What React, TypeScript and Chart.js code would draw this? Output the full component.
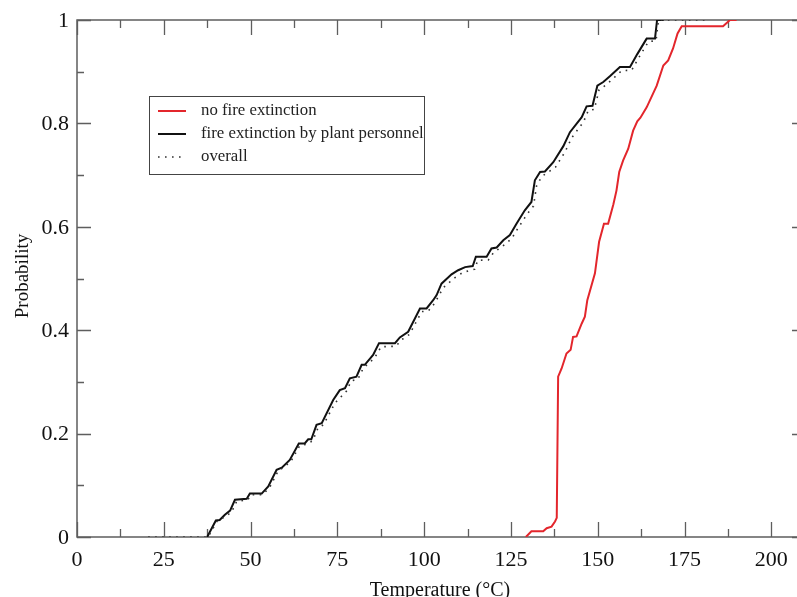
import React, { useEffect, useRef } from "react";
import { Chart, registerables } from "chart.js";
Chart.register(...registerables);

// ---- Data ----
const xMajorTicks = [0, 25, 50, 75, 100, 125, 150, 175, 200];
const xMinorTicks = [12.5, 37.5, 62.5, 87.5, 112.5, 137.5, 162.5, 187.5];
const yMajorTicks = [0, 0.2, 0.4, 0.6, 0.8, 1];
const yMinorTicks = [0.1, 0.3, 0.5, 0.7, 0.9];
const yTickLabels = ["0", "0.2", "0.4", "0.6", "0.8", "1"];

const seriesNames = ["no fire extinction", "fire extinction by plant personnel", "overall"];

const noExtT = [129.3, 130.9, 134.3, 135.3, 136.7, 137.7, 138.2, 138.6, 139.6, 141.0, 142.2, 142.9, 143.9, 145.4, 146.3, 147.0, 149.2, 150.4, 151.8, 153.0, 154.5, 155.4, 156.2, 157.3, 158.8, 160.2, 161.4, 162.3, 164.1, 167.0, 168.9, 170.3, 171.7, 173.0, 174.2, 186.1, 188.1, 190.0];
const noExtP = [0, 0.011, 0.011, 0.017, 0.020, 0.030, 0.037, 0.310, 0.326, 0.355, 0.362, 0.387, 0.388, 0.413, 0.426, 0.458, 0.510, 0.571, 0.606, 0.606, 0.643, 0.670, 0.706, 0.728, 0.751, 0.786, 0.804, 0.811, 0.831, 0.873, 0.912, 0.922, 0.945, 0.974, 0.988, 0.988, 1.0, 1.0];

const plantT = [37.5, 40.0, 41.1, 42.6, 44.1, 45.5, 48.9, 49.8, 53.2, 55.1, 57.5, 59.0, 61.3, 63.9, 65.6, 66.6, 67.5, 69.0, 70.5, 73.8, 75.7, 77.2, 78.6, 80.5, 82.0, 82.9, 85.3, 87.0, 91.6, 93.0, 95.4, 98.8, 100.7, 102.6, 103.6, 105.0, 107.9, 109.8, 111.8, 114.0, 114.9, 118.0, 119.4, 120.9, 122.8, 124.7, 126.6, 129.0, 130.9, 131.9, 133.4, 134.8, 137.2, 140.1, 142.0, 145.4, 146.8, 148.5, 149.9, 151.6, 153.5, 156.4, 159.3, 161.4, 164.1, 166.5, 167.1, 169.0];
const plantP = [0, 0.032, 0.033, 0.043, 0.051, 0.072, 0.074, 0.084, 0.084, 0.098, 0.130, 0.134, 0.149, 0.181, 0.181, 0.189, 0.189, 0.217, 0.220, 0.265, 0.284, 0.288, 0.307, 0.310, 0.333, 0.333, 0.352, 0.375, 0.375, 0.386, 0.397, 0.442, 0.442, 0.458, 0.468, 0.490, 0.508, 0.516, 0.522, 0.524, 0.542, 0.542, 0.558, 0.560, 0.574, 0.584, 0.606, 0.632, 0.648, 0.690, 0.706, 0.707, 0.725, 0.756, 0.783, 0.812, 0.833, 0.834, 0.873, 0.880, 0.891, 0.909, 0.909, 0.934, 0.964, 0.964, 1.0, 1.0];

const overallT = [20.5, 37.8, 40.3, 42.8, 44.5, 46.0, 49.2, 50.2, 53.5, 55.5, 57.9, 61.6, 64.2, 66.0, 67.9, 69.5, 71.0, 74.3, 77.6, 79.0, 80.9, 82.5, 85.7, 87.6, 91.9, 93.4, 95.8, 99.3, 101.2, 103.0, 105.5, 108.5, 111.2, 114.6, 115.4, 118.5, 120.0, 123.3, 125.2, 127.1, 129.6, 131.5, 132.4, 134.0, 137.8, 140.6, 142.5, 145.9, 147.3, 149.0, 150.4, 152.1, 154.0, 156.9, 159.8, 161.9, 164.6, 166.8, 167.5, 182.3];
const overallP = [0, 0, 0.030, 0.040, 0.048, 0.069, 0.072, 0.082, 0.082, 0.096, 0.127, 0.146, 0.177, 0.179, 0.186, 0.212, 0.217, 0.259, 0.282, 0.302, 0.305, 0.327, 0.346, 0.368, 0.369, 0.381, 0.392, 0.436, 0.437, 0.452, 0.482, 0.500, 0.512, 0.518, 0.535, 0.536, 0.550, 0.566, 0.577, 0.598, 0.624, 0.640, 0.680, 0.698, 0.715, 0.745, 0.772, 0.803, 0.825, 0.827, 0.865, 0.873, 0.884, 0.902, 0.903, 0.928, 0.958, 0.960, 1.0, 1.0];

const RED = "#e3262c";
const BLACK = "#111111";
const DOT = "#333333";
const FRAME = "#5e5e5e";
const SERIF = '"Liberation Serif", "DejaVu Serif", serif';

const toPoints = (xs: number[], ys: number[]) => xs.map((x, i) => ({ x, y: ys[i] }));

export default function App() {
  const ref = useRef<HTMLCanvasElement>(null);

  useEffect(() => {
    const canvas = ref.current!;
    const framePlugin = {
      id: "frame",
      beforeDatasetsDraw(chart: any) {
        const { ctx, chartArea: a, scales } = chart;
        const xs = scales.x;
        const ys = scales.y;
        ctx.save();
        ctx.strokeStyle = FRAME;
        ctx.lineWidth = 1.5;
        ctx.beginPath();
        ctx.rect(a.left, a.top, a.right - a.left, a.bottom - a.top);
        ctx.stroke();
        ctx.lineWidth = 1.3;
        ctx.beginPath();
        const xTick = (v: number, len: number) => {
          const px = Math.round(xs.getPixelForValue(v)) + 0.5;
          ctx.moveTo(px, a.bottom);
          ctx.lineTo(px, a.bottom - len);
          ctx.moveTo(px, a.top);
          ctx.lineTo(px, a.top + len);
        };
        const yTick = (v: number, len: number) => {
          const py = Math.round(ys.getPixelForValue(v)) + 0.5;
          ctx.moveTo(a.left, py);
          ctx.lineTo(a.left + len, py);
          ctx.moveTo(a.right, py);
          ctx.lineTo(a.right - len, py);
        };
        xMajorTicks.forEach((v) => xTick(v, 15));
        xMinorTicks.forEach((v) => xTick(v, 8));
        yMajorTicks.forEach((v) => yTick(v, 14));
        yMinorTicks.forEach((v) => yTick(v, 7));
        ctx.stroke();

        // tick labels
        ctx.fillStyle = "#111";
        ctx.font = `22px ${SERIF}`;
        ctx.textAlign = "center";
        ctx.textBaseline = "alphabetic";
        xMajorTicks.forEach((v) => {
          ctx.fillText(String(v), xs.getPixelForValue(v), 566);
        });
        ctx.textAlign = "right";
        ctx.textBaseline = "middle";
        yMajorTicks.forEach((v, i) => {
          ctx.fillText(yTickLabels[i], 69, ys.getPixelForValue(v) + 1);
        });

        // axis titles
        ctx.font = `20px ${SERIF}`;
        ctx.textAlign = "center";
        ctx.textBaseline = "alphabetic";
        ctx.fillText("Temperature (°C)", 440, 596);
        ctx.save();
        ctx.translate(28, 276);
        ctx.rotate(-Math.PI / 2);
        ctx.font = `19px ${SERIF}`;
        ctx.fillText("Probability", 0, 0);
        ctx.restore();
        ctx.restore();
      },
      afterDraw(chart: any) {
        const { ctx } = chart;
        ctx.save();
        ctx.fillStyle = "#fff";
        ctx.fillRect(149, 96, 275, 78);
        ctx.strokeStyle = "#444";
        ctx.lineWidth = 1;
        ctx.strokeRect(149.5, 96.5, 275, 78);
        const rows = [111, 134, 157];
        const colors = [RED, BLACK, DOT];
        rows.forEach((ry, i) => {
          ctx.beginPath();
          ctx.strokeStyle = colors[i];
          if (i === 2) {
            ctx.lineWidth = 1.6;
            ctx.setLineDash([1.6, 5.4]);
          } else {
            ctx.lineWidth = 2;
            ctx.setLineDash([]);
          }
          ctx.moveTo(158, ry);
          ctx.lineTo(186, ry);
          ctx.stroke();
        });
        ctx.setLineDash([]);
        ctx.beginPath();
        ctx.rect(149, 96, 275, 78);
        ctx.clip();
        ctx.fillStyle = "#222";
        ctx.font = `16.8px ${SERIF}`;
        ctx.textAlign = "left";
        ctx.textBaseline = "middle";
        rows.forEach((ry, i) => ctx.fillText(seriesNames[i], 201, ry));
        ctx.restore();
      },
    };

    const chart = new Chart(canvas, {
      type: "line",
      data: {
        datasets: [
          {
            label: seriesNames[2],
            data: toPoints(overallT, overallP),
            borderColor: DOT,
            borderWidth: 1.6,
            borderDash: [1.6, 5.4],
            pointRadius: 0,
            tension: 0,
            fill: false,
          },
          {
            label: seriesNames[1],
            data: toPoints(plantT, plantP),
            borderColor: BLACK,
            borderWidth: 2,
            pointRadius: 0,
            tension: 0,
            fill: false,
          },
          {
            label: seriesNames[0],
            data: toPoints(noExtT, noExtP),
            borderColor: RED,
            borderWidth: 2,
            pointRadius: 0,
            tension: 0,
            fill: false,
          },
        ],
      },
      options: {
        responsive: false,
        animation: false,
        devicePixelRatio: 1,
        layout: { padding: { top: 20, right: 9, left: 0, bottom: 0 } },
        plugins: { legend: { display: false }, tooltip: { enabled: false } },
        scales: {
          x: {
            type: "linear",
            min: 0,
            max: 210,
            grid: { display: false },
            border: { display: false },
            ticks: { display: false },
            afterFit: (s: any) => {
              s.height = 60;
            },
          },
          y: {
            type: "linear",
            min: 0,
            max: 1,
            grid: { display: false },
            border: { display: false },
            ticks: { display: false },
            afterFit: (s: any) => {
              s.width = 77;
            },
          },
        },
      },
      plugins: [framePlugin],
    } as any);
    return () => chart.destroy();
  }, []);

  return (
    <div
      style={{
        position: "fixed",
        left: 0,
        top: 0,
        width: 797,
        height: 597,
        overflow: "hidden",
        background: "#fff",
      }}
    >
      <canvas ref={ref} width={815} height={597} style={{ display: "block", width: 815, height: 597 }} />
    </div>
  );
}
